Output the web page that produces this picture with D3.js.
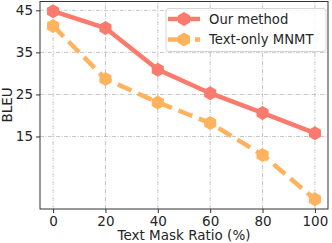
<!DOCTYPE html>
<head>
    <script src="https://d3js.org/d3.v7.min.js" charset="utf-8"></script>
    <style type="text/css">
        body {
            margin: 0;
            background: white;
        }

        text {
            font-family: "DejaVu Sans", sans-serif;
            fill: #262626;
        }
    </style>
</head>

<body>
    <svg id="main"></svg>
    <script>
        let width = 332,
            height = 243

        // data
        const ratios = [0, 20, 40, 60, 80, 100]
        const ourMethod = [44.8, 40.8, 30.9, 25.3, 20.6, 15.8]
        const textOnly = [41.3, 28.7, 23.1, 18.2, 10.6, 0.1]
        const yTicks = [15, 25, 35, 45]
        const seriesNames = ["Our method", "Text-only MNMT"]

        const margin = { left: 40, top: 1.5, right: 4, bottom: 34 }

        let svg1 = d3.select("#main")
            .attr("width", width)
            .attr("height", height)

        let x = d3.scaleLinear()
            .domain([-5, 105])
            .range([margin.left, width - margin.right])

        let y = d3.scaleLinear()
            .domain([-2.24, 47.1])
            .range([height - margin.bottom, margin.top])

        // grid lines, dash-dot like the original
        let grid = svg1.append("g")
        grid.selectAll(".vg")
            .data(ratios).enter()
            .append("line")
            .attr("x1", d => x(d)).attr("x2", d => x(d))
            .attr("y1", y.range()[0]).attr("y2", y.range()[1])
            .attr("stroke", "#b8b8b8")
            .attr("stroke-width", 0.8)
            .attr("stroke-dasharray", "4,1.5,1,1.5")
        grid.selectAll(".hg")
            .data(yTicks).enter()
            .append("line")
            .attr("y1", d => y(d)).attr("y2", d => y(d))
            .attr("x1", x.range()[0]).attr("x2", x.range()[1])
            .attr("stroke", "#b8b8b8")
            .attr("stroke-width", 0.8)
            .attr("stroke-dasharray", "4,1.5,1,1.5")

        // hexagon marker
        function hexagon(r) {
            let pts = d3.range(6).map(i => {
                let a = Math.PI / 3 * i - Math.PI / 2
                return [r * Math.cos(a), r * Math.sin(a)]
            })
            return "M" + pts.join("L") + "Z"
        }

        let lineGen = d3.line()
            .x((d, i) => x(ratios[i]))
            .y(d => y(d))

        function drawSeries(values, color, dash) {
            svg1.append("path")
                .datum(values)
                .attr("d", lineGen)
                .attr("fill", "none")
                .attr("stroke", color)
                .attr("stroke-width", 4.5)
                .attr("stroke-dasharray", dash)
            svg1.append("g").selectAll("path")
                .data(values).enter()
                .append("path")
                .attr("d", hexagon(7))
                .attr("transform", (d, i) => "translate(" + x(ratios[i]) + "," + y(d) + ")")
                .attr("fill", color)
        }

        const colors = ["#f97b6e", "#ffb35e"]
        drawSeries(textOnly, colors[1], "15,7")
        drawSeries(ourMethod, colors[0], null)

        // axes
        let xAxis = d3.axisBottom(x).tickValues(ratios).tickSize(4).tickPadding(3)
        let yAxis = d3.axisLeft(y).tickValues(yTicks).tickSize(4).tickPadding(3)

        let gx = svg1.append("g")
            .attr("transform", "translate(0," + y.range()[0] + ")")
            .call(xAxis)
        let gy = svg1.append("g")
            .attr("transform", "translate(" + x.range()[0] + ",0)")
            .call(yAxis)
        for (let g of [gx, gy]) {
            g.select(".domain").remove()
            g.selectAll("line").attr("stroke", "#333")
            g.selectAll("text")
                .style("font-family", "DejaVu Sans")
                .style("font-size", "13.5px")
                .attr("fill", "#262626")
        }

        // frame
        svg1.append("rect")
            .attr("x", x.range()[0])
            .attr("y", y.range()[1])
            .attr("width", x.range()[1] - x.range()[0])
            .attr("height", y.range()[0] - y.range()[1])
            .attr("fill", "none")
            .attr("stroke", "#333")
            .attr("stroke-width", 1)

        // axis labels
        svg1.append("text")
            .attr("x", (x.range()[0] + x.range()[1]) / 2)
            .attr("y", 240)
            .attr("text-anchor", "middle")
            .style("font-size", "13.5px")
            .text("Text Mask Ratio (%)")
        svg1.append("text")
            .attr("transform", "translate(12,105) rotate(-90)")
            .attr("text-anchor", "middle")
            .style("font-size", "13.5px")
            .text("BLEU")

        // legend
        let legend = svg1.append("g")
        legend.append("rect")
            .attr("x", 166).attr("y", 8.5)
            .attr("width", 160).attr("height", 43)
            .attr("rx", 3)
            .attr("fill", "white")
            .attr("fill-opacity", 0.8)
            .attr("stroke", "#d6d6d6")
        seriesNames.forEach(function (name, i) {
            let ly = 19 + i * 20.5
            legend.append("line")
                .attr("x1", 168).attr("x2", 200)
                .attr("y1", ly).attr("y2", ly)
                .attr("stroke", colors[i])
                .attr("stroke-width", 4.5)
                .attr("stroke-dasharray", i == 1 ? "22,5" : null)
            legend.append("path")
                .attr("d", hexagon(7))
                .attr("transform", "translate(184," + ly + ")")
                .attr("fill", colors[i])
            legend.append("text")
                .attr("x", 209).attr("y", ly)
                .attr("dy", "0.35em")
                .style("font-size", "13.2px")
                .text(name)
        })
    </script>
</body>
